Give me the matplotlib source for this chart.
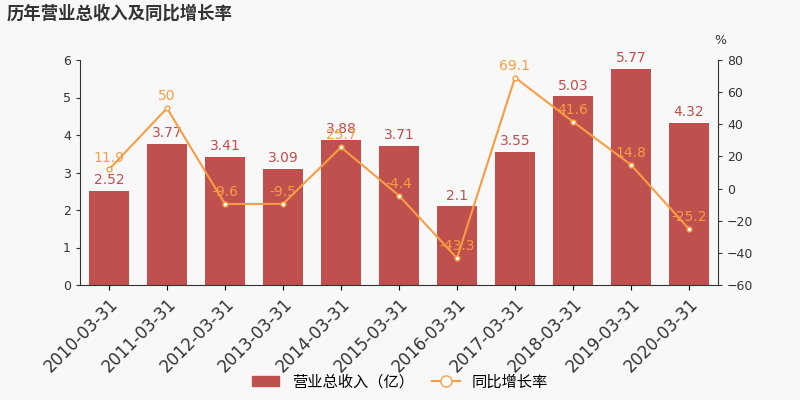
import matplotlib
matplotlib.use("Agg")
import matplotlib.pyplot as plt

plt.rcParams['font.family'] = ['DejaVu Sans', 'Noto Sans CJK SC']

categories = ["2010-03-31","2011-03-31","2012-03-31","2013-03-31","2014-03-31","2015-03-31",
              "2016-03-31","2017-03-31","2018-03-31","2019-03-31","2020-03-31"]
revenue = [2.52,3.77,3.41,3.09,3.88,3.71,2.1,3.55,5.03,5.77,4.32]
growth = [11.9,50,-9.6,-9.5,25.7,-4.4,-43.3,69.1,41.6,14.8,-25.2]
rev_labels = ["2.52","3.77","3.41","3.09","3.88","3.71","2.1","3.55","5.03","5.77","4.32"]
gr_labels = ["11.9","50","-9.6","-9.5","25.7","-4.4","-43.3","69.1","41.6","14.8","-25.2"]

bg = '#f8f8f8'
bar_c = '#c0504d'
line_c = '#f79d45'
cjk = ['Noto Sans CJK SC', 'DejaVu Sans']

fig = plt.figure(figsize=(8,4), dpi=100, facecolor=bg)
ax = fig.add_axes([0.1, 0.2875, 0.7975, 0.5625])
ax.set_facecolor(bg)
x = list(range(len(categories)))
ax.bar(x, revenue, width=0.7, color=bar_c, zorder=2)
ax.set_ylim(0, 6)
ax.set_xlim(-0.5, len(categories)-0.5)
for xi, v, t in zip(x, revenue, rev_labels):
    ax.text(xi, v + 0.1, t, ha='center', va='bottom', color=bar_c, fontsize=10)
ax.set_xticks(x)
ax.set_xticklabels(categories, rotation=45, ha='right', rotation_mode='anchor', fontsize=12, color='#333333')
ax.tick_params(axis='y', labelsize=9, colors='#333333', length=3)
for s in ['top', 'right']:
    ax.spines[s].set_visible(False)
ax.spines['left'].set_color('#333333')
ax.spines['bottom'].set_color('#333333')

ax2 = ax.twinx()
ax2.plot(x, growth, color=line_c, lw=1.5, marker='o', ms=3.5, mfc='white', mec=line_c, zorder=3)
ax2.set_ylim(-60, 80)
ax2.set_yticks(range(-60, 81, 20))
ax2.tick_params(axis='y', labelsize=9, colors='#333333', length=3)
for s in ['top', 'left', 'bottom']:
    ax2.spines[s].set_visible(False)
ax2.spines['right'].set_color('#333333')
for xi, v, t in zip(x, growth, gr_labels):
    ax2.text(xi, v + 3, t, ha='center', va='bottom', color=line_c, fontsize=10)
fig.text(0.893, 0.89, '%', fontsize=9, color='#333333')

fig.text(0.008, 0.965, '历年营业总收入及同比增长率', fontsize=12.5, fontweight='bold', color='#333333',
         va='center', family=cjk)

from matplotlib.patches import Patch
from matplotlib.lines import Line2D
handles = [Patch(color=bar_c, label='营业总收入（亿）'),
           Line2D([0],[0], color=line_c, marker='o', ms=8, mfc='white', label='同比增长率')]
fig.legend(handles=handles, loc='lower center', bbox_to_anchor=(0.5, -0.01), ncol=2, frameon=False,
           prop={'family': cjk, 'size': 11}, handlelength=1.8, columnspacing=1.2)

fig.savefig('out.png', dpi=100, facecolor=bg)
